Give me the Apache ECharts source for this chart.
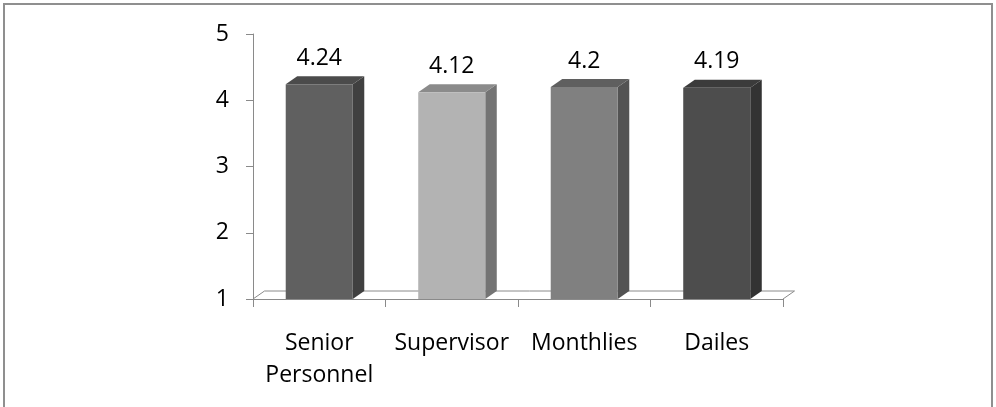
<!DOCTYPE html>
<html>
<head>
<meta charset="utf-8">
<script src="https://cdn.jsdelivr.net/npm/echarts@6/dist/echarts.min.js"></script>
<style>
html,body{margin:0;padding:0;background:#fff;}
#chart{width:996px;height:407px;}
</style>
</head>
<body>
<div id="chart"></div>
<script>
// ---- data ----
var categories = ['Senior\nPersonnel', 'Supervisor', 'Monthlies', 'Dailes'];
var values = [4.24, 4.12, 4.2, 4.19];
var yTicks = [1, 2, 3, 4, 5];

// ---- styles ----
var frontColors = ['#606060', '#b3b3b3', '#808080', '#4d4d4d'];
var sideColors  = ['#404040', '#747474', '#535353', '#333333'];
var topColors   = ['#4b4b4b', '#8b8b8b', '#5f5f5f', '#3b3b3b'];
var AXIS = '#8a8a8a';
var FONT = '"Open Sans", "Noto Sans", sans-serif';
var DX = 11.5, DY = 8;

var chart = echarts.init(document.getElementById('chart'), null, {renderer: 'canvas'});

var option = {
  backgroundColor: '#ffffff',
  animation: false,
  graphic: [{
    type: 'rect', silent: true, z: 0,
    shape: {x: 4, y: 4, width: 988, height: 430},
    style: {fill: 'none', stroke: '#8f8f8f', lineWidth: 2}
  }],
  grid: {left: 253, right: 213, top: 34, bottom: 108, containLabel: false},
  xAxis: {
    type: 'category',
    data: categories,
    boundaryGap: true,
    axisLine: {show: true, lineStyle: {color: AXIS, width: 1}},
    axisTick: {show: true, length: 8, lineStyle: {color: AXIS, width: 1}},
    axisLabel: {color: '#000', fontFamily: FONT, fontSize: 23, lineHeight: 32.5, margin: 28, interval: 0},
    splitLine: {show: false}
  },
  yAxis: {
    type: 'value',
    min: yTicks[0], max: yTicks[yTicks.length - 1], interval: 1,
    axisLine: {show: true, lineStyle: {color: AXIS, width: 1}},
    axisTick: {show: true, length: 7, lineStyle: {color: AXIS, width: 1}},
    axisLabel: {color: '#000', fontFamily: FONT, fontSize: 23, margin: 24},
    splitLine: {show: false}
  },
  series: [
    {
      type: 'custom',
      z: 1,
      silent: true,
      data: [0],
      renderItem: function (params, api) {
        var cs = params.coordSys;
        var x0 = cs.x, x1 = cs.x + cs.width, yb = cs.y + cs.height;
        return {
          type: 'group',
          children: [
            {type: 'polyline', shape: {points: [[x0, yb], [x0 + DX, yb - DY], [x1 + DX, yb - DY], [x1, yb]]},
             style: {stroke: AXIS, lineWidth: 1, fill: null}}
          ]
        };
      }
    },
    {
      type: 'custom',
      z: 2,
      silent: true,
      data: values.map(function (v, i) { return [i, v]; }),
      renderItem: function (params, api) {
        var i = api.value(0), v = api.value(1);
        var top = api.coord([i, v]);
        var base = api.coord([i, yTicks[0]]);
        var w = api.size([1, 0])[0] * 0.506;
        var l = top[0] - w / 2, r = top[0] + w / 2;
        var ty = top[1], by = base[1];
        return {
          type: 'group',
          children: [
            {type: 'polygon', shape: {points: [[r, ty], [r + DX, ty - DY], [r + DX, by - DY], [r, by]]},
             style: {fill: sideColors[i]}},
            {type: 'polygon', shape: {points: [[l, ty], [l + DX, ty - DY], [r + DX, ty - DY], [r, ty]]},
             style: {fill: topColors[i]}},
            {type: 'rect', shape: {x: l, y: ty, width: w, height: by - ty},
             style: {fill: frontColors[i]}},
            {type: 'text', x: top[0], y: ty - 26,
             style: {text: String(values[i]), fill: '#000', font: '23px ' + FONT, align: 'center', verticalAlign: 'middle'}}
          ]
        };
      }
    }
  ]
};
chart.setOption(option);
</script>
</body>
</html>
